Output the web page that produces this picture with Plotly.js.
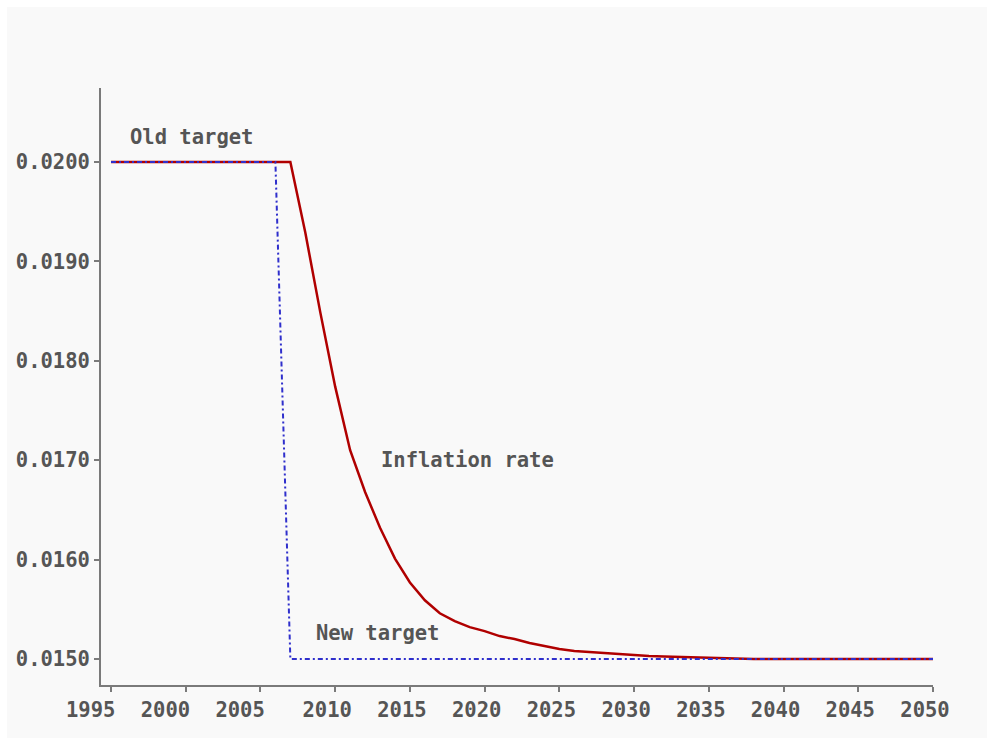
<!DOCTYPE html>
<html>
<head>
<meta charset="utf-8">
<script src="https://cdn.plot.ly/plotly-3.0.1.min.js"></script>
<style>
  html, body { margin: 0; padding: 0; background: #ffffff; }
  #chart { position: absolute; left: 7px; top: 7px; width: 980px; height: 731px; }
</style>
</head>
<body>
<div id="chart"></div>
<script>
// Years (annual)
const years = [1995,1996,1997,1998,1999,2000,2001,2002,2003,2004,2005,2006,2007,2008,2009,2010,
  2011,2012,2013,2014,2015,2016,2017,2018,2019,2020,2021,2022,2023,2024,2025,2026,2027,2028,2029,2030,
  2031,2032,2033,2034,2035,2036,2037,2038,2039,2040,2041,2042,2043,2044,2045,2046,2047,2048,2049,2050];

// Inflation rate
const inflation = [0.0200,0.0200,0.0200,0.0200,0.0200,0.0200,0.0200,0.0200,0.0200,0.0200,0.0200,0.0200,0.0200,
  0.01929,0.01849,0.01774,0.01710,0.01668,0.01632,0.01601,0.01577,0.01559,0.01546,0.01538,0.01532,0.01528,
  0.01523,0.01520,0.01516,0.01513,0.01510,0.01508,0.01507,0.01506,0.01505,0.015035,0.01503,0.015025,0.01502,
  0.015015,0.01501,0.015005,0.0150,0.0150,0.0150,0.0150,0.0150,0.0150,0.0150,0.0150,0.0150,0.0150,0.0150,
  0.0150,0.0150,0.0150];

// Target: old target 2% through 2006, new target 1.5% from 2007
const target = [0.0200,0.0200,0.0200,0.0200,0.0200,0.0200,0.0200,0.0200,0.0200,0.0200,0.0200,0.0200,
  0.0150,0.0150,0.0150,0.0150,0.0150,0.0150,0.0150,0.0150,0.0150,0.0150,0.0150,0.0150,0.0150,0.0150,
  0.0150,0.0150,0.0150,0.0150,0.0150,0.0150,0.0150,0.0150,0.0150,0.0150,0.0150,0.0150,0.0150,0.0150,
  0.0150,0.0150,0.0150,0.0150,0.0150,0.0150,0.0150,0.0150,0.0150,0.0150,0.0150,0.0150,0.0150,0.0150,
  0.0150,0.0150];

const xTickVals = [1995,2000,2005,2010,2015,2020,2025,2030,2035,2040,2045,2050];
const xTickText = ['1995\u00a0\u00a0','2000\u00a0\u00a0','2005\u00a0\u00a0','2010','2015','2020','2025','2030','2035','2040','2045','2050'];
const yTickVals = [0.0150,0.0160,0.0170,0.0180,0.0190,0.0200];

const labels = [
  {text: 'Old target', x: 1996.15, y: 0.020252},
  {text: 'Inflation rate', x: 2012.95, y: 0.0170},
  {text: 'New target', x: 2008.6, y: 0.015259}
];

const font = {family: '"DejaVu Sans Mono", monospace', size: 20.5, color: '#555555', weight: 'bold'};

const traces = [
  {x: years, y: inflation, type: 'scatter', mode: 'lines', name: 'Inflation rate',
   line: {color: '#b00000', width: 2.5}},
  {x: years, y: target, type: 'scatter', mode: 'lines', name: 'Target',
   line: {color: '#2f2fcc', width: 2, dash: '5px,3px,2px,3px'}}
];

const layout = {
  width: 980, height: 731,
  paper_bgcolor: '#f9f9f9', plot_bgcolor: '#f9f9f9',
  margin: {l: 94, r: 54, t: 81, b: 53},
  showlegend: false,
  font: font,
  xaxis: {
    range: [1994.33, 2050], tickmode: 'array', tickvals: xTickVals, ticktext: xTickText,
    showgrid: false, zeroline: false, showline: true, linecolor: '#7a7a7a', linewidth: 2,
    ticks: 'outside', ticklen: 5, tickwidth: 2, tickcolor: '#7a7a7a',
    tickangle: 0, ticklabelshift: -8, tickfont: font
  },
  yaxis: {
    range: [0.014738, 0.020745], tickmode: 'array', tickvals: yTickVals, tickformat: '.4f',
    showgrid: false, zeroline: false, showline: true, linecolor: '#7a7a7a', linewidth: 2,
    ticks: 'outside', ticklen: 5, tickwidth: 2, tickcolor: '#7a7a7a', tickfont: font
  },
  annotations: labels.map(l => ({
    text: l.text, x: l.x, y: l.y, xref: 'x', yref: 'y', showarrow: false,
    xanchor: 'left', yanchor: 'middle', font: font
  }))
};

Plotly.newPlot('chart', traces, layout, {staticPlot: true, displayModeBar: false});
</script>
</body>
</html>
